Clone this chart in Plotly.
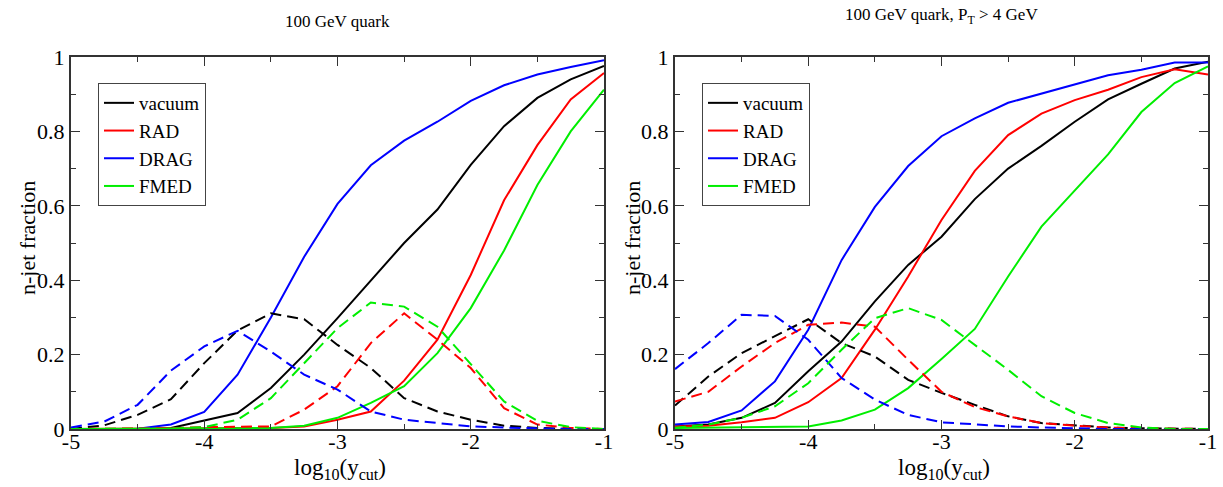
import plotly.graph_objects as go

W, H = 1223, 487

x_log_ycut = [-5, -4.75, -4.5, -4.25, -4, -3.75, -3.5, -3.25, -3, -2.75, -2.5, -2.25, -2, -1.75, -1.5, -1.25, -1]

series_names = ["vacuum", "RAD", "DRAG", "FMED"]
series_colors = ["#000000", "#ff0000", "#0000ff", "#00ee00"]

# Left panel: 100 GeV quark
left_total = {
    "vacuum": [0, 0, 0, 0.003, 0.022, 0.043, 0.11, 0.2, 0.298, 0.40, 0.50, 0.59, 0.71, 0.814, 0.89, 0.94, 0.976],
    "RAD":    [0, 0, 0, 0, 0.002, 0.003, 0.003, 0.007, 0.025, 0.047, 0.13, 0.24, 0.414, 0.615, 0.763, 0.886, 0.957],
    "DRAG":   [0, 0, 0.001, 0.012, 0.046, 0.146, 0.30, 0.463, 0.605, 0.709, 0.775, 0.826, 0.882, 0.924, 0.953, 0.973, 0.991],
    "FMED":   [0, 0, 0, 0, 0.001, 0.002, 0.003, 0.009, 0.03, 0.07, 0.115, 0.204, 0.325, 0.48, 0.656, 0.80, 0.912],
}
left_dashed = {
    "vacuum": [0, 0.01, 0.038, 0.08, 0.177, 0.265, 0.311, 0.295, 0.226, 0.164, 0.083, 0.047, 0.025, 0.009, 0.003, 0, 0],
    "RAD":    [0, 0, 0, 0.002, 0.005, 0.007, 0.007, 0.052, 0.115, 0.231, 0.311, 0.24, 0.164, 0.056, 0.012, 0.003, 0],
    "DRAG":   [0.004, 0.02, 0.065, 0.157, 0.222, 0.264, 0.208, 0.146, 0.106, 0.047, 0.025, 0.016, 0.007, 0.004, 0.002, 0, 0],
    "FMED":   [0, 0, 0, 0.001, 0.005, 0.025, 0.083, 0.177, 0.271, 0.34, 0.329, 0.275, 0.173, 0.074, 0.022, 0.005, 0],
}

# Right panel: 100 GeV quark, PT > 4 GeV
right_total = {
    "vacuum": [0.007, 0.012, 0.03, 0.07, 0.155, 0.235, 0.343, 0.441, 0.517, 0.618, 0.70, 0.761, 0.826, 0.886, 0.928, 0.969, 0.987],
    "RAD":    [0.007, 0.009, 0.018, 0.03, 0.072, 0.137, 0.267, 0.41, 0.562, 0.694, 0.79, 0.848, 0.884, 0.912, 0.946, 0.967, 0.953],
    "DRAG":   [0.012, 0.019, 0.05, 0.128, 0.267, 0.454, 0.597, 0.707, 0.787, 0.835, 0.877, 0.902, 0.927, 0.951, 0.966, 0.985, 0.985],
    "FMED":   [0.003, 0.004, 0.005, 0.005, 0.007, 0.023, 0.052, 0.11, 0.188, 0.269, 0.41, 0.544, 0.642, 0.738, 0.852, 0.93, 0.975],
}
right_dashed = {
    "vacuum": [0.063, 0.141, 0.204, 0.249, 0.295, 0.231, 0.195, 0.132, 0.097, 0.065, 0.034, 0.016, 0.009, 0.004, 0.002, 0, 0],
    "RAD":    [0.074, 0.10, 0.168, 0.231, 0.28, 0.286, 0.275, 0.186, 0.10, 0.059, 0.034, 0.016, 0.009, 0.004, 0.002, 0, 0],
    "DRAG":   [0.161, 0.231, 0.307, 0.304, 0.24, 0.137, 0.079, 0.038, 0.018, 0.012, 0.007, 0.004, 0.002, 0, 0, 0, 0],
    "FMED":   [0.003, 0.012, 0.03, 0.061, 0.123, 0.213, 0.298, 0.325, 0.293, 0.226, 0.159, 0.088, 0.043, 0.016, 0.004, 0, 0],
}

panel_titles = ["100 GeV quark", "100 GeV quark, P<sub>T</sub> > 4 GeV"]
x_tick_vals = [-5, -4, -3, -2, -1]
x_tick_text = ["-5", "-4", "-3", "-2", "-1"]
y_tick_vals = [0, 0.2, 0.4, 0.6, 0.8, 1]
y_tick_text = ["0", "0.2", "0.4", "0.6", "0.8", "1"]
x_title = "log<sub>10</sub>(y<sub>cut</sub>)"
y_title = "n-jet fraction"

FONT = "Liberation Serif"

fig = go.Figure()

panels = [(left_total, left_dashed, "x", "y", "legend"),
          (right_total, right_dashed, "x2", "y2", "legend2")]

for total, dashed, xa, ya, lg in panels:
    for name, color in zip(series_names, series_colors):
        fig.add_trace(go.Scatter(x=x_log_ycut, y=total[name], mode="lines", name=name,
                                 line=dict(color=color, width=2), xaxis=xa, yaxis=ya,
                                 legend=lg, showlegend=True))
    for name, color in zip(series_names, series_colors):
        fig.add_trace(go.Scatter(x=x_log_ycut, y=dashed[name], mode="lines", name=name,
                                 line=dict(color=color, width=2, dash="11px,6px"),
                                 xaxis=xa, yaxis=ya, showlegend=False))

# reference pixel geometry
left_px = (71, 604)
right_px = (675, 1208)
top_px, bot_px = 57, 429

def px_x(p):
    return p / W

def px_y(p):
    return 1 - p / H

ydom = [px_y(bot_px), px_y(top_px)]

axis_common = dict(showline=True, linecolor="#333333", linewidth=2, mirror="allticks",
                   ticks="inside", ticklen=9, tickwidth=1, tickcolor="#333333",
                   showgrid=False, zeroline=False, automargin=False,
                   tickfont=dict(family=FONT, size=22, color="black"))

xaxis_common = dict(axis_common, range=[-5, -1], tickvals=x_tick_vals, ticktext=x_tick_text,
                    ticklabelstandoff=-8,
                    minor=dict(ticks="inside", ticklen=5, dtick=0.5, tick0=-5, tickcolor="#333333"))
yaxis_common = dict(axis_common, range=[0, 1], tickvals=y_tick_vals, ticktext=y_tick_text,
                    minor=dict(ticks="inside", ticklen=5, dtick=0.1, tick0=0, tickcolor="#333333"))

legend_common = dict(bgcolor="white", bordercolor="#444444", borderwidth=1,
                     font=dict(family=FONT, size=19, color="black"),
                     xanchor="left", yanchor="top", tracegroupgap=0, itemwidth=30)

fig.update_layout(
    template="none",
    width=W, height=H,
    margin=dict(l=0, r=0, t=0, b=0, autoexpand=False),
    paper_bgcolor="white", plot_bgcolor="white",
    font=dict(family=FONT, color="black"),
    xaxis=dict(xaxis_common, domain=[px_x(left_px[0]), px_x(left_px[1])], anchor="y"),
    yaxis=dict(yaxis_common, domain=ydom, anchor="x"),
    xaxis2=dict(xaxis_common, domain=[px_x(right_px[0]), px_x(right_px[1])], anchor="y2"),
    yaxis2=dict(yaxis_common, domain=ydom, anchor="x2"),
    legend=dict(legend_common, x=px_x(98), y=px_y(83)),
    legend2=dict(legend_common, x=px_x(702), y=px_y(83)),
    showlegend=True,
)

annotations = []
centers = [(left_px[0] + left_px[1]) / 2, (right_px[0] + right_px[1]) / 2]
title_y = [21, 16]
for c, t, ty in zip(centers, panel_titles, title_y):
    annotations.append(dict(text=t, x=px_x(c), y=px_y(ty), xref="paper", yref="paper",
                            showarrow=False, xanchor="center", yanchor="middle",
                            font=dict(family=FONT, size=17, color="black")))
for c in centers:
    annotations.append(dict(text=x_title, x=px_x(c + 2), y=px_y(469), xref="paper", yref="paper",
                            showarrow=False, xanchor="center", yanchor="middle",
                            font=dict(family=FONT, size=23, color="black")))
for xp in [27, 632]:
    annotations.append(dict(text=y_title, x=px_x(xp), y=px_y(238), xref="paper", yref="paper",
                            showarrow=False, xanchor="center", yanchor="middle", textangle=-90,
                            font=dict(family=FONT, size=22, color="black")))
fig.update_layout(annotations=annotations)

# remove the browser's default 8px body margin so the figure fills the window
fig.write_html("out.html", config={"displayModeBar": False},
               post_script="document.body.style.margin='0px';")
